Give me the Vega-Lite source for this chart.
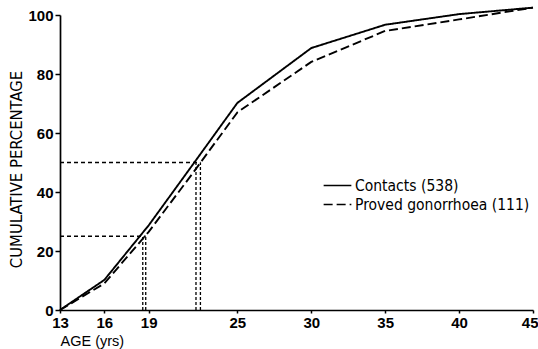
{
  "$schema": "https://vega.github.io/schema/vega-lite/v6.json",
  "width": 473,
  "height": 295,
  "autosize": "none",
  "padding": {"left": 60, "top": 15, "right": 5, "bottom": 39},
  "background": "white",
  "config": {
    "view": {"stroke": null},
    "font": "Liberation Sans",
    "axis": {
      "grid": false,
      "domainColor": "black",
      "domainWidth": 1.7,
      "tickColor": "black",
      "tickWidth": 1.5,
      "labelColor": "black",
      "titleColor": "black",
      "labelFont": "Liberation Sans",
      "labelFontWeight": "bold",
      "labelFontSize": 15,
      "titleFontSize": 15,
      "titleFontWeight": "normal"
    },
    "legend": {
      "labelFont": "DejaVu Sans Condensed",
      "labelFontSize": 15.5,
      "labelColor": "black",
      "labelLimit": 0
    }
  },
  "datasets": {
    "curves": [
      {"age": 13, "pct": 0, "series": "Contacts (538)"},
      {"age": 16, "pct": 10.2, "series": "Contacts (538)"},
      {"age": 19, "pct": 28.7, "series": "Contacts (538)"},
      {"age": 22, "pct": 49.4, "series": "Contacts (538)"},
      {"age": 25, "pct": 70.2, "series": "Contacts (538)"},
      {"age": 30, "pct": 88.8, "series": "Contacts (538)"},
      {"age": 35, "pct": 96.7, "series": "Contacts (538)"},
      {"age": 40, "pct": 100.3, "series": "Contacts (538)"},
      {"age": 45, "pct": 102.5, "series": "Contacts (538)"},
      {"age": 13, "pct": 0, "series": "Proved gonorrhoea (111)"},
      {"age": 16, "pct": 9, "series": "Proved gonorrhoea (111)"},
      {"age": 19, "pct": 26.5, "series": "Proved gonorrhoea (111)"},
      {"age": 22, "pct": 46.5, "series": "Proved gonorrhoea (111)"},
      {"age": 25, "pct": 67, "series": "Proved gonorrhoea (111)"},
      {"age": 30, "pct": 84.1, "series": "Proved gonorrhoea (111)"},
      {"age": 35, "pct": 94.6, "series": "Proved gonorrhoea (111)"},
      {"age": 40, "pct": 98.5, "series": "Proved gonorrhoea (111)"},
      {"age": 45, "pct": 102.5, "series": "Proved gonorrhoea (111)"}
    ],
    "hrefs": [
      {"pct": 50, "from": 13, "to": 22.5},
      {"pct": 25, "from": 13, "to": 18.8}
    ],
    "vrefs": [
      {"age": 18.6, "base": 0, "top": 25},
      {"age": 18.8, "base": 0, "top": 25},
      {"age": 22.2, "base": 0, "top": 50},
      {"age": 22.5, "base": 0, "top": 50}
    ]
  },
  "layer": [
    {
      "data": {"name": "hrefs"},
      "mark": {"type": "rule", "color": "black", "strokeWidth": 1.4, "strokeDash": [4, 3]},
      "encoding": {
        "x": {"field": "from", "type": "quantitative"},
        "x2": {"field": "to"},
        "y": {"field": "pct", "type": "quantitative"}
      }
    },
    {
      "data": {"name": "vrefs"},
      "mark": {"type": "rule", "color": "black", "strokeWidth": 1.3, "strokeDash": [3, 2]},
      "encoding": {
        "x": {"field": "age", "type": "quantitative"},
        "y": {"field": "base", "type": "quantitative"},
        "y2": {"field": "top"}
      }
    },
    {
      "data": {"name": "curves"},
      "mark": {"type": "line", "color": "black", "strokeWidth": 1.9, "clip": false},
      "encoding": {
        "x": {
          "field": "age",
          "type": "quantitative",
          "scale": {"domain": [13, 45], "nice": false, "zero": false},
          "axis": {
            "values": [13, 16, 19, 25, 30, 35, 40, 45],
            "title": "AGE (yrs)",
            "titleFont": "Liberation Sans",
            "titleFontSize": 14.5,
            "tickSize": 3,
            "labelPadding": 2,
            "labelAlign": {"condition": {"test": "datum.value == 45", "value": "right"}, "value": "center"},
            "labelOffset": {"condition": {"test": "datum.value == 45", "value": 5}, "value": 0},
            "titleX": 0,
            "titleY": 31,
            "titleAlign": "left",
            "titleBaseline": "middle",
            "labelFlush": false,
            "labelOverlap": false
          }
        },
        "y": {
          "field": "pct",
          "type": "quantitative",
          "scale": {"domain": [0, 100], "nice": false},
          "axis": {
            "values": [0, 10, 20, 30, 40, 50, 60, 70, 80, 90, 100],
            "labelExpr": "datum.value % 20 == 0 ? datum.label : ''",
            "title": "CUMULATIVE PERCENTAGE",
            "titleFont": "DejaVu Sans Condensed",
            "titleFontSize": 16.5,
            "tickSize": 5,
            "labelPadding": 2,
            "titleX": -44,
            "titleY": 154,
            "titleAngle": 270,
            "titleAlign": "center",
            "titleBaseline": "middle",
            "labelFlush": false,
            "labelOverlap": false
          }
        },
        "strokeDash": {
          "field": "series",
          "type": "nominal",
          "scale": {
            "domain": ["Contacts (538)", "Proved gonorrhoea (111)"],
            "range": [[1, 0], [9, 4]]
          },
          "legend": {
            "title": null,
            "orient": "none",
            "legendX": 268,
            "legendY": 161,
            "symbolType": "M-1.6,0H1.6",
            "symbolSize": 300,
            "symbolStrokeWidth": 1.6,
            "symbolStrokeColor": "black",
            "symbolFillColor": "transparent",
            "labelOffset": 8,
            "rowPadding": 1
          }
        }
      }
    }
  ]
}
